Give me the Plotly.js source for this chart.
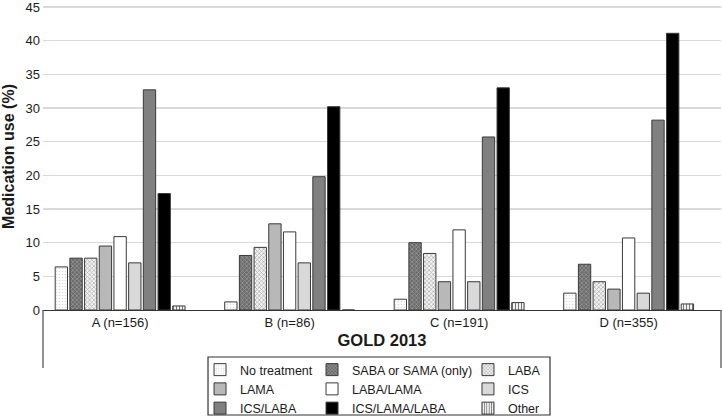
<!DOCTYPE html>
<html>
<head>
<meta charset="utf-8">
<script src="https://cdn.plot.ly/plotly-3.0.1.min.js"></script>
<style>
  html, body { margin: 0; padding: 0; background: #ffffff; }
  #chart { width: 722px; height: 418px; }
</style>
</head>
<body>
<div id="chart"></div>
<script>
// Categories (GOLD 2013 groups)
const categories = ['A (n=156)', 'B (n=86)', 'C (n=191)', 'D (n=355)'];

// Medication use (%) per group
const noTreatment   = [6.4, 1.2, 1.6, 2.5];
const sabaSama      = [7.7, 8.1, 10.0, 6.8];
const laba          = [7.7, 9.3, 8.4, 4.2];
const lama          = [9.5, 12.8, 4.2, 3.1];
const labaLama      = [10.9, 11.6, 11.9, 10.7];
const ics           = [7.0, 7.0, 4.2, 2.5];
const icsLaba       = [32.7, 19.8, 25.7, 28.2];
const icsLamaLaba   = [17.3, 30.2, 33.0, 41.1];
const other         = [0.6, 0, 1.1, 0.9];

const yTicks = [0, 5, 10, 15, 20, 25, 30, 35, 40, 45];

const FONT = '"Liberation Sans", Arial, sans-serif';
const outline = { color: '#3a3a3a', width: 1 };

function bar(name, y, style, legendId) {
  const marker = { color: style.color, line: outline };
  if (style.pattern) marker.pattern = style.pattern;
  return {
    type: 'bar', name: name, x: categories, y: y,
    marker: marker, legend: legendId, hoverinfo: 'name+y'
  };
}

const data = [
  bar('No treatment', noTreatment,
      { color: '#f8f8f8', pattern: { shape: '.', bgcolor: '#fcfcfc', fgcolor: '#dadada', size: 3, solidity: 0.2 } }, 'legend'),
  bar('SABA or SAMA (only)', sabaSama,
      { color: '#6e6e6e', pattern: { shape: 'x', bgcolor: '#6a6a6a', fgcolor: '#a0a0a0', size: 3, solidity: 0.4 } }, 'legend2'),
  bar('LABA', laba,
      { color: '#e6e6e6', pattern: { shape: 'x', bgcolor: '#f4f4f4', fgcolor: '#9a9a9a', size: 3, solidity: 0.35 } }, 'legend3'),
  bar('LAMA', lama, { color: '#b8b8b8' }, 'legend'),
  bar('LABA/LAMA', labaLama, { color: '#ffffff' }, 'legend2'),
  bar('ICS', ics, { color: '#d9d9d9' }, 'legend3'),
  bar('ICS/LABA', icsLaba, { color: '#808080' }, 'legend'),
  bar('ICS/LAMA/LABA', icsLamaLaba, { color: '#000000' }, 'legend2'),
  bar('Other', other,
      { color: '#ffffff', pattern: { shape: '|', bgcolor: '#ffffff', fgcolor: '#777777', size: 3, solidity: 0.4 } }, 'legend3')
];

const legendCommon = {
  orientation: 'v', yanchor: 'top', xanchor: 'left',
  bgcolor: 'rgba(0,0,0,0)', borderwidth: 0,
  font: { family: FONT, size: 12.5, color: '#1a1a1a' },
  tracegroupgap: 0, itemwidth: 30, traceorder: 'normal'
};

const legendTop = -0.1466;

const layout = {
  width: 722, height: 418,
  margin: { l: 43, r: 1, t: 3, b: 108, pad: 0, autoexpand: false },
  paper_bgcolor: '#ffffff', plot_bgcolor: '#ffffff',
  font: { family: FONT, size: 13, color: '#1a1a1a' },
  barmode: 'group', bargap: 0.22, bargroupgap: 0.16,
  showlegend: true,
  xaxis: {
    type: 'category', range: [-0.455, 3.545],
    showline: true, linecolor: '#333333', linewidth: 1.3,
    ticks: '', showgrid: false, zeroline: false,
    tickfont: { family: FONT, size: 13, color: '#1a1a1a' },
    title: { text: 'GOLD 2013', font: { family: FONT, size: 16.5, color: '#1a1a1a', weight: 'bold' }, standoff: 5 },
    automargin: false
  },
  yaxis: {
    range: [0, 45.6], tickvals: yTicks, ticktext: yTicks.map(String),
    showline: false, zeroline: false, ticks: '',
    showgrid: true, gridcolor: '#d9d9d9', gridwidth: 1.3,
    layer: 'above traces',
    ticklabeloverflow: 'allow',
    tickfont: { family: FONT, size: 13, color: '#1a1a1a' },
    ticklabelstandoff: 2,
    title: { text: 'Medication use (%)', font: { family: FONT, size: 16, color: '#1a1a1a', weight: 'bold' }, standoff: 6 },
    automargin: false
  },
  legend:  Object.assign({}, legendCommon, { x: 0.2316, y: legendTop }),
  legend2: Object.assign({}, legendCommon, { x: 0.3968, y: legendTop }),
  legend3: Object.assign({}, legendCommon, { x: 0.6268, y: legendTop }),
  shapes: [
    // category box side lines below the axis
    { type: 'line', xref: 'paper', yref: 'paper', x0: 0, x1: 0, y0: 0, y1: -0.1889,
      line: { color: '#555555', width: 1.3 } },
    { type: 'line', xref: 'paper', yref: 'paper', x0: 1, x1: 1, y0: 0, y1: -0.1889,
      line: { color: '#555555', width: 1.3 } },
    // legend frame
    { type: 'rect', xref: 'paper', yref: 'paper', x0: 0.2434, x1: 0.7478, y0: -0.1531, y1: -0.3420,
      line: { color: '#333333', width: 1.2 }, fillcolor: 'rgba(0,0,0,0)' }
  ]
};

Plotly.newPlot('chart', data, layout, { displayModeBar: false, staticPlot: true });
</script>
</body>
</html>
